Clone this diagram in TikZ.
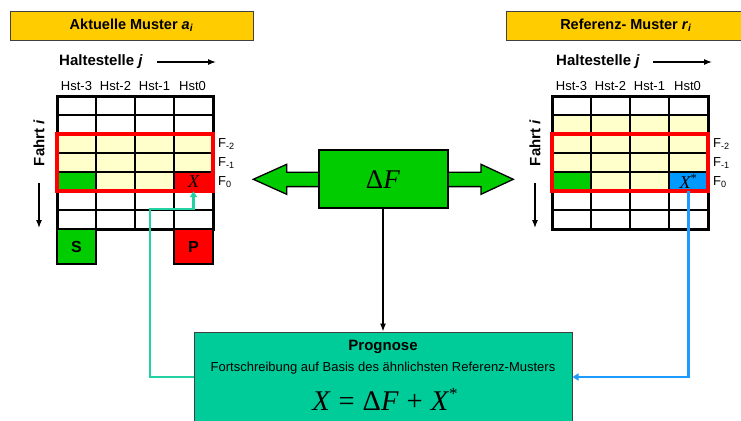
\documentclass[tikz,border=0pt]{standalone}
\usepackage{fontspec}
\setmainfont{Liberation Sans}
\newfontfamily\tms{Liberation Serif}
\usetikzlibrary{arrows.meta}
\definecolor{titley}{HTML}{FFCC00}
\definecolor{paley}{HTML}{FFFFCC}
\definecolor{gr}{HTML}{00CC00}
\definecolor{rd}{HTML}{FF0000}
\definecolor{bl}{HTML}{0099FF}
\definecolor{progc}{HTML}{00CC99}
\definecolor{tealline}{HTML}{22D2A2}
\definecolor{blline}{HTML}{1E9BFF}
\definecolor{dgray}{HTML}{404040}
\begin{document}
\begin{tikzpicture}[x=1pt,y=-1pt,
  titlebox/.style={draw=dgray,line width=0.9pt,fill=titley,inner sep=0pt,minimum height=29pt,font=\fontsize{14.5}{16}\selectfont\bfseries},
  hdr/.style={inner sep=0pt,font=\fontsize{15}{17}\selectfont\bfseries},
  lbl/.style={inner sep=0pt,font=\fontsize{13}{15}\selectfont},
  gline/.style={black,line width=1.4pt},
  outer/.style={black,line width=3pt},
  redbox/.style={rd,line width=3.2pt},
  cell/.style={inner sep=0pt,minimum width=39pt,minimum height=19pt,font=\tms\itshape\fontsize{18}{20}\selectfont},
  spbox/.style={draw=black,line width=2.8pt,inner sep=0pt,minimum width=39pt,minimum height=35pt,font=\fontsize{16}{18}\selectfont\bfseries},
  plainarrow/.style={-{Latex[length=8pt,width=6pt]},line width=1.2pt},
  conn/.style={line width=2.2pt,-{Triangle[length=6pt,width=7pt]}}
]
\useasboundingbox (0,0) rectangle (741,420);

% ---------- titles
\node[titlebox,minimum width=243pt] (tl) at (131.5,25.5) {Aktuelle Muster \textit{a}\textsubscript{\textit{i}}};
\node[titlebox,minimum width=240pt] (tr) at (626,25.5) {Referenz- Muster \textit{r}\textsubscript{\textit{i}}};

% ---------- left grid
\foreach \c in {0,...,3} \foreach \r in {2,3,4} \fill[paley] (57+39*\c,96+19*\r) rectangle ++(39,19);
\fill[gr] (57,172) rectangle (96,191);
\node[cell,fill=rd] (xa) at (193.5,181.5) {X};
\foreach \c in {1,2,3} \draw[gline] (57+39*\c,96) -- (57+39*\c,229);
\foreach \r in {1,...,6} \draw[gline] (57,96+19*\r) -- (213,96+19*\r);
\draw[outer] (57,96) rectangle (213,229);
\draw[redbox] (57,134) rectangle (213,191);

\node[lbl] (h3a) at (76.5,86) {Hst-3};
\node[lbl] (h2a) at (115.5,86) {Hst-2};
\node[lbl] (h1a) at (154.5,86) {Hst-1};
\node[lbl] (h0a) at (192.5,86) {Hst0};
\node[lbl,anchor=west] (f2a) at (218,144) {F\textsubscript{-2}};
\node[lbl,anchor=west] (f1a) at (218,163) {F\textsubscript{-1}};
\node[lbl,anchor=west] (f0a) at (218,182) {F\textsubscript{0}};

\node[hdr,anchor=west] (hla) at (59,62) {Haltestelle \textit{j}};
\coordinate (ha1) at (157,62); \coordinate (ha2) at (216,62);
\draw[plainarrow] (ha1) -- (ha2);
\node[hdr,rotate=90] (fla) at (39,143) {Fahrt \textit{i}};
\coordinate (fa1) at (39,183); \coordinate (fa2) at (39,228);
\draw[plainarrow] (fa1) -- (fa2);

\node[spbox,fill=gr] (s) at (76.5,246.5) {S};
\node[spbox,fill=rd] (p) at (193.5,246.5) {P};

% ---------- right grid
\foreach \c in {0,...,3} \foreach \r in {1,2,3,4} \fill[paley] (552+39*\c,96+19*\r) rectangle ++(39,19);
\fill[gr] (552,172) rectangle (591,191);
\node[cell,fill=bl] (xr) at (688.5,181.5) {X\textsuperscript{\upshape *}};
\foreach \c in {1,2,3} \draw[gline] (552+39*\c,96) -- (552+39*\c,229);
\foreach \r in {1,...,6} \draw[gline] (552,96+19*\r) -- (708,96+19*\r);
\draw[outer] (552,96) rectangle (708,229);
\draw[redbox] (552,134) rectangle (708,191);

\node[lbl] (h3r) at (571.5,86) {Hst-3};
\node[lbl] (h2r) at (610.5,86) {Hst-2};
\node[lbl] (h1r) at (649.5,86) {Hst-1};
\node[lbl] (h0r) at (687.5,86) {Hst0};
\node[lbl,anchor=west] (f2r) at (713,144) {F\textsubscript{-2}};
\node[lbl,anchor=west] (f1r) at (713,163) {F\textsubscript{-1}};
\node[lbl,anchor=west] (f0r) at (713,182) {F\textsubscript{0}};

\node[hdr,anchor=west] (hlr) at (556,62) {Haltestelle \textit{j}};
\coordinate (hr1) at (653,62); \coordinate (hr2) at (712,62);
\draw[plainarrow] (hr1) -- (hr2);
\node[hdr,rotate=90] (flr) at (535,143) {Fahrt \textit{i}};
\coordinate (fr1) at (535,183); \coordinate (fr2) at (535,228);
\draw[plainarrow] (fr1) -- (fr2);

% ---------- Delta F double arrow
\draw[fill=gr,draw=black,line width=1.3pt,line join=miter]
  (253.3,179.3) -- (286.7,164.3) -- (286.7,172.2) -- (330,172.2) -- (330,186.6) -- (286.7,186.6) -- (286.7,194.3) -- cycle;
\draw[fill=gr,draw=black,line width=1.3pt,line join=miter]
  (513.3,179.3) -- (481,164.3) -- (481,172.2) -- (436,172.2) -- (436,186.6) -- (481,186.6) -- (481,194.3) -- cycle;
\node[draw=black,line width=2pt,fill=gr,minimum width=129pt,minimum height=58pt,inner sep=0pt,
  font=\tms\fontsize{27}{30}\selectfont] (df) at (383,179.3) {Δ\textit{F}};

% ---------- Prognose box
\node[draw=dgray,line width=1pt,fill=progc,minimum width=378pt,minimum height=90pt,inner sep=0pt] (prog) at (383,377) {};
\node[hdr] (pt) at (383,347) {Prognose};
\node[lbl] (pd) at (383,368) {Fortschreibung auf Basis des ähnlichsten Referenz-Musters};
\node[inner sep=0pt,font=\tms\fontsize{28.5}{30}\selectfont] (pf) at (385,399)
  {\textit{X}\hspace{8pt}=\hspace{8pt}Δ\textit{F}\hspace{8pt}+\hspace{8pt}\textit{X}\raisebox{11pt}{\fontsize{17}{17}\selectfont *}};

% ---------- connectors
\draw[plainarrow] (df.south) -- (prog.north);
\coordinate (t1) at (150,209);
\draw[conn,draw=tealline] (prog.west) -| (t1) -| (xa.south);
\draw[conn,draw=blline] (xr.south) |- (prog.east);
\end{tikzpicture}
\end{document}
